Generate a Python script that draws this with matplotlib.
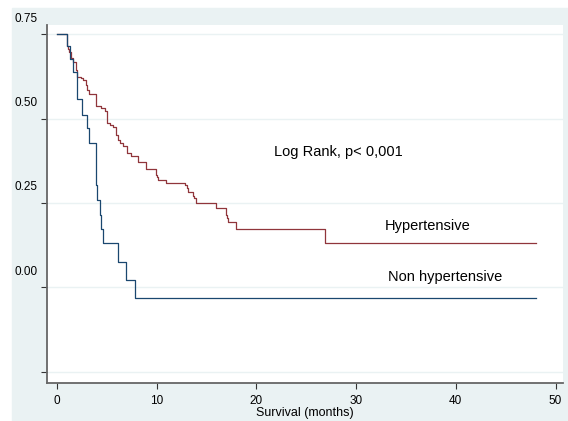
"""
Kaplan-Meier survival by hypertension status (Stata s2color look).
"""

import matplotlib
matplotlib.use("Agg")
import matplotlib.pyplot as plt
import matplotlib.transforms as mtransforms
from matplotlib.patches import Rectangle

plt.rcParams["font.family"] = ["Liberation Sans", "DejaVu Sans"]

# ── Data ──────────────────────────────────────────────────────────────────────

END_TIME = 48

# event times (months) and survival just after each drop
hyp_time = [0, 0.97, 1.07, 1.2, 1.4, 1.64, 1.87, 2.04, 2.37, 2.64, 2.87, 3.04,
            3.24, 3.88, 4.41, 4.81, 4.98, 5.05, 5.32, 5.65, 5.92, 6.08, 6.32,
            6.65, 6.99, 7.45, 8.09, 8.91, 9.93, 10.06, 10.16, 10.93, 12.84,
            13.0, 13.1, 13.6, 13.74, 13.9, 15.95, 16.95, 17.1, 17.2, 17.95, 26.9]
hyp_surv = [1.0, 0.965, 0.956, 0.948, 0.928, 0.918, 0.893, 0.874, 0.869, 0.864,
            0.849, 0.836, 0.822, 0.787, 0.782, 0.772, 0.748, 0.736, 0.731, 0.726,
            0.701, 0.686, 0.677, 0.670, 0.647, 0.639, 0.622, 0.602, 0.583, 0.578,
            0.568, 0.560, 0.553, 0.543, 0.533, 0.520, 0.514, 0.501, 0.484, 0.464,
            0.457, 0.445, 0.423, 0.381]

nonhyp_time = [0, 0.97, 1.3, 1.57, 2.04, 2.5, 3.04, 3.2, 3.95, 4.04, 4.3, 4.45,
               4.58, 6.1, 6.92, 7.82]
nonhyp_surv = [1.0, 0.965, 0.925, 0.888, 0.807, 0.760, 0.723, 0.678, 0.553,
               0.509, 0.464, 0.422, 0.381, 0.326, 0.272, 0.218]

ytick_pos = [0, 0.25, 0.5, 0.75, 1.0]
ytick_lab = ["", "0.00", "0.25", "0.50", "0.75"]
xtick_pos = [0, 10, 20, 30, 40, 50]

COL_HYP = "#90353B"
COL_NON = "#1A476F"
COL_BG = "#EAF2F3"

# ── Figure ────────────────────────────────────────────────────────────────────

W, H = 568, 421
fig = plt.figure(figsize=(W / 100, H / 100), dpi=100, facecolor="white")
fig.patches.append(Rectangle((12 / W, 0), 1 - 12 / W, 1 - 8 / H,
                             transform=fig.transFigure, color=COL_BG, zorder=-1))

ax = fig.add_axes([47 / W, (H - 383) / H, (563 - 47) / W, (383 - 25) / H])
ax.set_facecolor("white")

ax.step(hyp_time + [END_TIME], hyp_surv + [hyp_surv[-1]], where="post",
        color=COL_HYP, lw=0.9)
ax.step(nonhyp_time + [END_TIME], nonhyp_surv + [nonhyp_surv[-1]], where="post",
        color=COL_NON, lw=0.9)

ax.set_xlim(-1.0, 50.75)
ax.set_ylim(-0.033, 1.027)

for s in ["top", "right"]:
    ax.spines[s].set_visible(False)
for s in ["left", "bottom"]:
    ax.spines[s].set_color("#666666")
    ax.spines[s].set_linewidth(1.3)

ax.set_yticks(ytick_pos)
ax.set_yticklabels(ytick_lab)
ax.set_xticks(xtick_pos)
ax.tick_params(axis="both", length=4, width=0.8, color="#333333", labelsize=8.5)
ax.tick_params(axis="y", pad=3)
ax.tick_params(axis="x", pad=5)
ax.yaxis.grid(True, color=COL_BG, lw=1.0)
ax.set_axisbelow(True)

# y labels sit above their ticks in the original
shift = mtransforms.ScaledTranslation(0, 17 / 100, fig.dpi_scale_trans)
for lbl in ax.get_yticklabels():
    lbl.set_transform(lbl.get_transform() + shift)

ax.set_xlabel("Survival (months)", fontsize=9)
ax.xaxis.set_label_coords(0.5, -0.066)

ax.text(28.2, 0.651, "Log Rank, p< 0,001", fontsize=10.5, ha="center", va="center")
ax.text(37.2, 0.432, "Hypertensive", fontsize=10.5, ha="center", va="center")
ax.text(38.9, 0.281, "Non hypertensive", fontsize=10.5, ha="center", va="center")

fig.savefig("out.png", dpi=100)
